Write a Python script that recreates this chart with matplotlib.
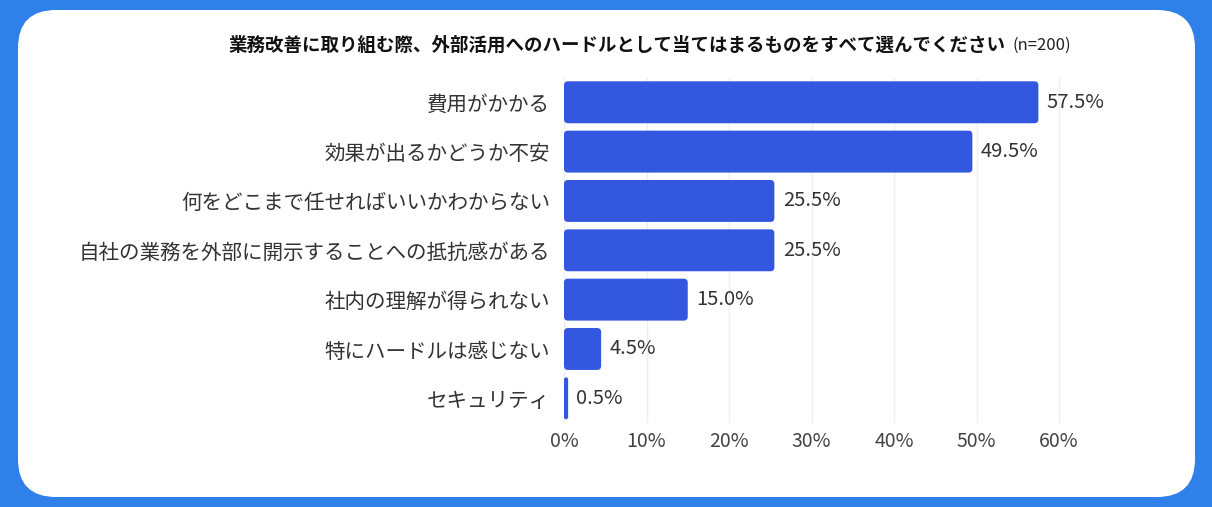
import matplotlib
matplotlib.use('Agg')
import matplotlib.pyplot as plt
from matplotlib.patches import FancyBboxPatch

plt.rcParams['font.family'] = ['Noto Sans CJK JP', 'DejaVu Sans']

# Data
categories = ['費用がかかる', '効果が出るかどうか不安', '何をどこまで任せればいいかわからない',
              '自社の業務を外部に開示することへの抵抗感がある', '社内の理解が得られない',
              '特にハードルは感じない', 'セキュリティ']
values = [57.5, 49.5, 25.5, 25.5, 15.0, 4.5, 0.5]
ticks = [0, 10, 20, 30, 40, 50, 60]
title = '業務改善に取り組む際、外部活用へのハードルとして当てはまるものをすべて選んでください'
note = '(n=200)'

W, H = 1212, 507
fig = plt.figure(figsize=(W / 100, H / 100), dpi=100)
fig.patch.set_facecolor('#2F80E8')

# white card in pixel coords
bg = fig.add_axes([0, 0, 1, 1])
bg.set_xlim(0, W)
bg.set_ylim(H, 0)
bg.axis('off')
card = FancyBboxPatch((18, 10), 1177, 487, boxstyle='round,pad=0,rounding_size=38',
                      facecolor='white', edgecolor='none')
bg.add_patch(card)

ax = fig.add_axes([564 / W, 1 - 423 / H, (62 * 8.25) / W, (423 - 77.6) / H])
ax.patch.set_alpha(0)
bars = ax.barh(range(len(categories)), values, height=0.85, color='#3358DF', zorder=3)
ax.set_ylim(len(categories) - 0.5, -0.5)
ax.set_xlim(0, 62)

# small rounded corners on the bars
px_x = 62 / (62 * 8.25)
px_y = len(categories) / (423 - 77.6)
for b in bars:
    b.set_visible(False)
    r = min(4 * px_x, b.get_width() / 2)
    ax.add_patch(FancyBboxPatch((b.get_x(), b.get_y()), b.get_width(), b.get_height(),
                                boxstyle=f'round,pad=0,rounding_size={r}',
                                mutation_aspect=px_y / px_x,
                                facecolor='#3358DF', edgecolor='none', zorder=3))

ax.set_yticks(range(len(categories)))
ax.set_yticklabels(categories, fontsize=14.8, color='#333333')
ax.set_xticks(ticks)
ax.set_xticklabels([f'{t}%' for t in ticks], fontsize=14, color='#444444')
ax.tick_params(axis='both', length=0)
ax.tick_params(axis='y', pad=10)
ax.tick_params(axis='x', pad=6)
for s in ax.spines.values():
    s.set_visible(False)
ax.grid(axis='x', color='#eeeeee', linewidth=1, zorder=0)
ax.bar_label(bars, labels=[f'{v:.1f}%' for v in values], padding=6, fontsize=14.5, color='#333333')

fig.text(229 / W, 1 - 45 / H, title, fontsize=13.3, fontweight='bold', ha='left', va='center', color='#111111')
fig.text(1013 / W, 1 - 45 / H, note, fontsize=12, ha='left', va='center', color='#222222')

fig.savefig('out.png', dpi=100, facecolor=fig.get_facecolor())
